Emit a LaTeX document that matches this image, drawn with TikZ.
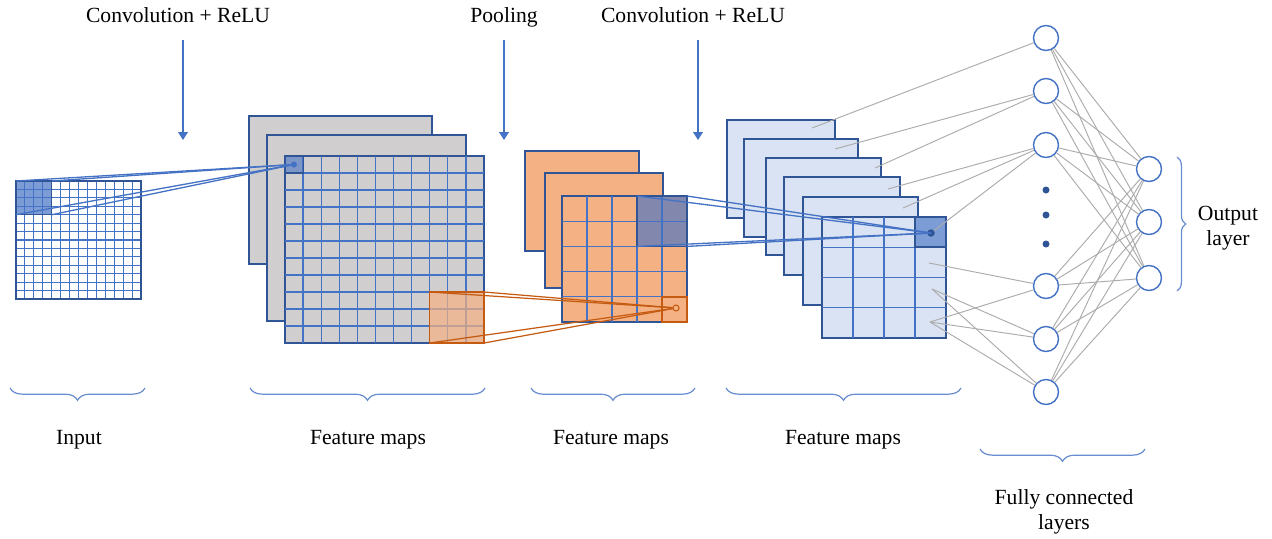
\documentclass[tikz,border=0pt]{standalone}
\usepackage{fontspec}
\setmainfont{Liberation Serif}
\usetikzlibrary{arrows.meta,decorations.pathreplacing}

\definecolor{cnnblue}{HTML}{4472C4}
\definecolor{cnndark}{HTML}{2F5597}
\definecolor{cnngray}{HTML}{D0CECE}
\definecolor{cnnorange}{HTML}{F4B183}
\definecolor{cnnrust}{HTML}{C55A11}
\definecolor{cnnlight}{HTML}{DAE3F3}
\definecolor{cnnline}{HTML}{BFBFBF}

\begin{document}
\begin{tikzpicture}[x=0.02cm, y=-0.02cm, font=\fontsize{12.3}{14.5}\selectfont,
    sheet/.style={draw=cnndark, line width=0.8pt},
    cell/.style={cnnblue, line width=0.75pt},
    kernel/.style={cnnblue, line width=0.75pt},
    poolline/.style={cnnrust, line width=0.7pt},
    stepdown/.style={cnnblue, line width=0.8pt, -{Triangle[width=5.5pt, length=4.5pt]}},
    layerbrace/.style={cnnblue!80, line width=0.7pt, decorate, decoration={brace, mirror, amplitude=7pt}},
    sidebrace/.style={cnnblue!80, line width=0.7pt, decorate, decoration={brace, amplitude=5pt}},
    neuron/.style={circle, draw=cnnblue, line width=0.8pt, fill=white, minimum size=0.5cm, inner sep=0pt},
    wire/.style={cnnline!90!black, line width=0.55pt},
    spot/.style={circle, fill=cnnblue, inner sep=0pt, minimum size=0.12cm}]

  \useasboundingbox (0,0) rectangle (1272,538);

  % Beschriftung oben
  \node[anchor=base] (conv1) at (178,22) {Convolution + ReLU};
  \node[anchor=base] (pool) at (504,22) {Pooling};
  \node[anchor=base] (conv2) at (693,22) {Convolution + ReLU};
  \coordinate (conv1top) at (183,40);
  \coordinate (conv1end) at (183,140);
  \coordinate (pooltop) at (504,40);
  \coordinate (poolend) at (504,140);
  \coordinate (conv2top) at (698,40);
  \coordinate (conv2end) at (698,140);
  \draw[stepdown] (conv1top) -- (conv1end);
  \draw[stepdown] (pooltop) -- (poolend);
  \draw[stepdown] (conv2top) -- (conv2end);

  % Input
  \fill[white] (16,181) rectangle (141,299);
  \foreach \i in {0,...,14} {
    \draw[cell, line width=0.6pt] ({16+\i*125/14},181) -- ++(0,118);
    \draw[cell, line width=0.6pt] (16,{181+\i*118/14}) -- ++(125,0);
  }
  \draw[cnndark, line width=0.6pt] (16,181) rectangle (141,299);
  \draw[cnndark, line width=0.6pt, fill=cnnblue, fill opacity=0.7] (16,181) rectangle ++({4*125/14},{4*118/14});

  % Feature maps 1
  \draw[sheet, fill=cnngray] (249,116) rectangle (432,264);
  \draw[sheet, fill=cnngray] (267,135) rectangle (466,321);
  \draw[sheet, fill=cnngray] (285,156) rectangle (484,343);
  \foreach \i in {1,...,10} {
    \draw[cell] ({285+\i*199/11},156) -- ++(0,187);
    \draw[cell] (285,{156+\i*187/11}) -- ++(199,0);
  }
  \draw[cnndark, line width=0.6pt, fill=cnnblue, fill opacity=0.6] (285,156) rectangle ++({199/11},{187/11});
  \node[spot] (f1spot) at (294,164.5) {};
  \draw[cnnrust, line width=0.8pt, fill=cnnorange, fill opacity=0.7] ({484-3*199/11},{343-3*187/11}) rectangle (484,343);

  % Feature maps 2 (Pooling)
  \draw[sheet, fill=cnnorange] (525,151) rectangle (639,251);
  \draw[sheet, fill=cnnorange] (545,173) rectangle (663,288);
  \draw[sheet, fill=cnnorange] (562,196) rectangle (687,322);
  \foreach \i in {1,...,4} {
    \draw[cell] ({562+\i*25},196) -- ++(0,126);
    \draw[cell] (562,{196+\i*25.2}) -- ++(125,0);
  }
  \draw[cnndark, line width=0.6pt, fill=cnnblue, fill opacity=0.65] (637,196) rectangle (687,246.4);
  \draw[cnnrust, line width=0.8pt] (662,296.8) rectangle (687,322);
  \node[circle, draw=cnnrust, line width=0.6pt, inner sep=0pt, minimum size=0.12cm] (p2spot) at (676,308) {};

  % Feature maps 3
  \draw[sheet, fill=cnnlight] (727,120) rectangle (835,218);
  \draw[sheet, fill=cnnlight] (744,139) rectangle (858,237);
  \draw[sheet, fill=cnnlight] (766,158) rectangle (881,255);
  \draw[sheet, fill=cnnlight] (784,177) rectangle (900,275);
  \draw[sheet, fill=cnnlight] (803,197) rectangle (918,305);
  \draw[sheet, fill=cnnlight] (822,217) rectangle (946,338);
  \foreach \i in {1,...,3} {
    \draw[cell] ({822+\i*31},217) -- ++(0,121);
    \draw[cell] (822,{217+\i*30.25}) -- ++(124,0);
  }
  \draw[cnndark, line width=1.4pt, fill=cnnblue!70] (915,217) rectangle (946,247.25);
  \node[spot, fill=cnndark, minimum size=0.15cm] (f3spot) at (931,233) {};

  % Verbindungen
  \coordinate (in-a) at (16,181);
  \coordinate (in-b) at ({16+4*125/14},181);
  \coordinate (in-c) at (16,{181+4*118/14});
  \coordinate (in-d) at ({16+4*125/14},{181+4*118/14});
  \foreach \c in {in-a,in-b,in-c,in-d}
    \draw[kernel] (\c) -- (f1spot.center);

  \coordinate (or-a) at ({484-3*199/11},{343-3*187/11});
  \coordinate (or-b) at (484,{343-3*187/11});
  \coordinate (or-c) at ({484-3*199/11},343);
  \coordinate (or-d) at (484,343);
  \foreach \c in {or-a,or-b,or-c,or-d}
    \draw[poolline] (\c) -- (p2spot);

  \coordinate (dk-a) at (637,196);
  \coordinate (dk-b) at (687,196);
  \coordinate (dk-c) at (637,246.4);
  \coordinate (dk-d) at (687,246.4);
  \foreach \c in {dk-a,dk-b,dk-c,dk-d}
    \draw[kernel] (\c) -- (f3spot.center);

  % Fully connected
  \foreach \n/\y in {1/38,2/91,3/145,4/286,5/339,6/392}
    \node[neuron] (h\n) at (1046,\y) {};
  \foreach \n/\y in {1/169,2/222,3/278}
    \node[neuron] (o\n) at (1149,\y) {};
  \foreach \n/\y in {1/190,2/215,3/244}
    \node[spot, fill=cnndark, minimum size=0.14cm] (vd\n) at (1046,\y) {};

  \coordinate (src1) at (812,128);
  \coordinate (src2) at (835,149);
  \coordinate (src3) at (875,168);
  \coordinate (src4) at (888,189);
  \coordinate (src5) at (903,208);
  \coordinate (src6) at (929,263);
  \coordinate (src7) at (932,289);
  \coordinate (src8) at (930,322);
  \foreach \s/\h in {src1/h1,src2/h2,src3/h2,src4/h3,src5/h3,f3spot/h3,src6/h4,src7/h5,src7/h6,src8/h4,src8/h5,src8/h6}
    \draw[wire] (\s) -- (\h);
  \foreach \h in {1,...,6}
    \foreach \o in {1,2,3}
      \draw[wire] (h\h) -- (o\o);

  % Klammern
  \draw[layerbrace] (10,388) -- (145,388);
  \draw[layerbrace] (250,388) -- (485,388);
  \draw[layerbrace] (531,388) -- (695,388);
  \draw[layerbrace] (726,388) -- (961,388);
  \draw[layerbrace] (980,449) -- (1145,449);
  \draw[sidebrace] (1177,157) -- (1177,291);

  \node[anchor=base] (inlab) at (79,444) {Input};
  \node[anchor=base] (fm1lab) at (368,444) {Feature maps};
  \node[anchor=base] (fm2lab) at (611,444) {Feature maps};
  \node[anchor=base] (fm3lab) at (843,444) {Feature maps};
  \node[align=center] (fclab) at (1064,512) {Fully connected\\layers};
  \node[align=center] (outlab) at (1228,228) {Output\\layer};

\end{tikzpicture}
\end{document}
